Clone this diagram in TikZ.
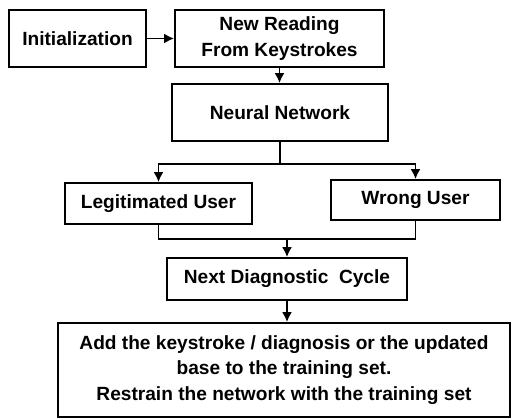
\documentclass[tikz,border=0pt]{standalone}
\usepackage{fontspec}
\setmainfont{Liberation Sans}
\usetikzlibrary{arrows.meta}

\tikzset{
  box/.style={draw, line width=1.3pt, align=center, inner sep=0pt,
    font=\fontsize{13.6}{18}\selectfont\bfseries},
  flow/.style={line width=1.3pt, -{Latex[length=7pt,width=7pt]}},
}

\begin{document}
\begin{tikzpicture}[x=0.025cm,y=-0.025cm]
\useasboundingbox (0,0) rectangle (512,419);
\node[box, minimum width=3.425cm, minimum height=1.425cm] (init) at (77.5,38.5) {Initialization};
\node[box, minimum width=5.225cm, minimum height=1.425cm] (reading) at (279.5,38.5) {New Reading\\From Keystrokes};
\node[box, minimum width=5.4cm, minimum height=1.425cm] (net) at (280,112.5) {Neural Network};
\node[box, minimum width=4.675cm, minimum height=1.025cm] (legit) at (158.5,203.5) {Legitimated User};
\node[box, minimum width=4.225cm, minimum height=1.0cm] (wrong) at (415.5,200) {Wrong User};
\node[box, minimum width=6cm, minimum height=1.05cm] (next) at (287,279) {Next Diagnostic\ \ Cycle};
\node[box, minimum width=11.3cm, minimum height=2.35cm] (update) at (284,370)
  {Add the keystroke / diagnosis or the updated\\base to the training set.\\Restrain the network with the training set};
\coordinate (split) at (280,164);
\coordinate (merge) at (287,239);
% arrows
\draw[flow] (init) -- (reading);
\draw[flow] (reading.south) -- (reading.south |- net.north);
\draw[line width=1.3pt] (net.south) -- (split);
\draw[flow] (split) -| (legit.north);
\draw[flow] (split) -| (wrong.north);
\draw[line width=1.3pt] (legit.south) |- (merge) -| (wrong.south);
\draw[flow] (merge) -- (next.north);
\draw[flow] (next.south) -- (next.south |- update.north);
\end{tikzpicture}
\end{document}
